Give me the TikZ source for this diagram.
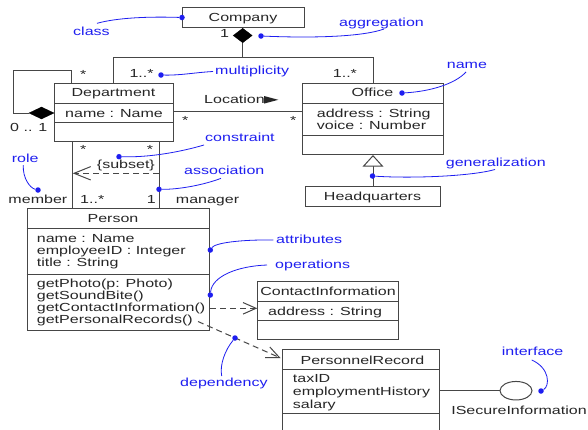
\documentclass[tikz,border=0pt]{standalone}
\usepackage{fontspec}
\usetikzlibrary{arrows.meta,shapes.geometric,calc}
\newfontfamily\umlfont[FakeStretch=1.37]{Liberation Sans}
\definecolor{ublue}{RGB}{30,30,240}
\definecolor{lineg}{RGB}{70,70,70}
\newcommand{\umlsize}{\umlfont\fontsize{11.7}{12.6}\selectfont}
\begin{document}
\begin{tikzpicture}[x=1pt,y=-1pt,
  box/.style={draw=lineg,line width=1pt,inner sep=0,anchor=north west},
  txt/.style={inner sep=0,font=\umlsize,text=black!85},
  note/.style={inner sep=0,font=\umlsize,text=ublue},
  lead/.style={draw=ublue,line width=0.8pt},
  dotb/.style={circle,fill=ublue,inner sep=0,minimum size=5.5pt},
  conn/.style={draw=lineg,line width=1pt},
  dep/.style={conn,dash pattern=on 6pt off 4pt},
  diam/.style={diamond,fill=black,draw=black,inner sep=0},
]
\clip (0,0) rectangle (588,429);
\fill[white] (0,0) rectangle (588,429);

% ---------- class boxes ----------
\node[box,minimum width=122pt,minimum height=20pt] (company) at (182,7) {};
\node[txt,anchor=base] (companyT) at (243,21.5) {Company};

\node[box,minimum width=119pt,minimum height=58pt] (dept) at (54,83) {};
\draw[conn] (dept.west |- 0,103) -- (dept.east |- 0,103);
\draw[conn] (dept.west |- 0,122) -- (dept.east |- 0,122);
\node[txt,anchor=base] (deptT) at (113.5,96.5) {Department};
\node[txt,anchor=base west] (deptA) at (65,117) {name : Name};

\node[box,minimum width=141pt,minimum height=71pt] (office) at (302,83) {};
\draw[conn] (office.west |- 0,103) -- (office.east |- 0,103);
\draw[conn] (office.west |- 0,135) -- (office.east |- 0,135);
\node[txt,anchor=base] (officeT) at (372.5,96.5) {Office};
\node[txt,anchor=base west] (officeA1) at (316.7,117) {address : String};
\node[txt,anchor=base west] (officeA2) at (316.7,129.5) {voice : Number};

\node[box,minimum width=135pt,minimum height=20pt] (hq) at (305,186) {};
\node[txt,anchor=base] (hqT) at (372.5,200.7) {Headquarters};

\node[box,minimum width=182.6pt,minimum height=122pt] (person) at (26.7,208) {};
\draw[conn] (person.west |- 0,228.3) -- (person.east |- 0,228.3);
\draw[conn] (person.west |- 0,274) -- (person.east |- 0,274);
\node[txt,anchor=base] (personT) at (113,222.3) {Person};
\node[txt,anchor=base west] (pa1) at (36.7,242.6) {name : Name};
\node[txt,anchor=base west] (pa2) at (36.7,254.7) {employeeID : Integer};
\node[txt,anchor=base west] (pa3) at (36.7,266.6) {title : String};
\node[txt,anchor=base west] (po1) at (36.7,287.3) {getPhoto(p: Photo)};
\node[txt,anchor=base west] (po2) at (36.7,299.4) {getSoundBite()};
\node[txt,anchor=base west] (po3) at (36.7,311.6) {getContactInformation()};
\node[txt,anchor=base west] (po4) at (36.7,323.8) {getPersonalRecords()};

\node[box,minimum width=141pt,minimum height=58.3pt] (ci) at (257.3,280.7) {};
\draw[conn] (ci.west |- 0,301) -- (ci.east |- 0,301);
\draw[conn] (ci.west |- 0,320) -- (ci.east |- 0,320);
\node[txt,anchor=base] (ciT) at (328,295.7) {ContactInformation};
\node[txt,anchor=base west] (ciA) at (268,315) {address : String};

\node[box,minimum width=156.4pt,minimum height=85pt] (pr) at (282.3,349.3) {};
\draw[conn] (pr.west |- 0,369.3) -- (pr.east |- 0,369.3);
\draw[conn] (pr.west |- 0,413.3) -- (pr.east |- 0,413.3);
\node[txt,anchor=base] (prT) at (362.5,364) {PersonnelRecord};
\node[txt,anchor=base west] (pra1) at (292.7,382.7) {taxID};
\node[txt,anchor=base west] (pra2) at (292.7,395.5) {employmentHistory};
\node[txt,anchor=base west] (pra3) at (292.7,408.3) {salary};

\node[draw=lineg,line width=1pt,ellipse,minimum width=32pt,minimum height=18.5pt,inner sep=0] (iface) at (516,390.7) {};
\node[txt,anchor=base] (ifaceT) at (519,414) {ISecureInformation};

% ---------- connectors ----------
% aggregation Company -> Department / Office
\node[diam,minimum width=19pt,minimum height=14.5pt] (cdiam) at (242.7,35.5) {};
\coordinate (aggj) at (242.7,57);
\draw[conn] (cdiam.south) -- (aggj);
\draw[conn] (aggj) -| ($(dept.north west)+(59,0)$);
\draw[conn] (aggj) -| ($(office.north west)+(71,0)$);
\node[txt,anchor=base west] (m1) at (220,37.3) {1};
\node[txt,anchor=base west] (m2) at (129.3,77.5) {1..*};
\node[txt,anchor=base west] (m3) at (332.7,77.5) {1..*};

% self aggregation on Department
\node[diam,minimum width=25pt,minimum height=12pt] (sdiam) at (41.5,113) {};
\coordinate (sl1) at (13.3,70);
\draw[conn] (sdiam.west) -| (sl1) -| ($(dept.north west)+(17.7,0)$);
\node[txt,anchor=base west] (m4) at (80,78) {*};
\node[txt,anchor=base west] (m5) at (10,131) {0 .. 1};

% Location association
\draw[conn] (dept.east |- 0,111) -- (office.west |- 0,111);
\node[txt,anchor=base west] (locT) at (204,103.5) {Location};
\fill[black!85] ($(locT.base east)+(-1,-7.5)$) -- ++(14.3,3.8) -- ++(-14.3,3.8) -- cycle;
\node[txt,anchor=base west] (m6) at (182,124.5) {*};
\node[txt,anchor=base west] (m7) at (290,124.5) {*};

% Department - Person associations
\draw[conn] (dept.south -| 72.7,0) -- (person.north -| 72.7,0);
\draw[conn] (dept.south -| 159,0) -- (person.north -| 159,0);
\coordinate (cr) at (159,173.3);
\coordinate (cl) at (72.7,173.3);
\draw[dep,-{Straight Barb[length=16.7pt,width=13.4pt]}] (cr) -- (cl);
\node[txt,anchor=base west] (subs) at (96.7,168.3) {\{subset\}};
\node[txt,anchor=base west] (m8) at (80,153) {*};
\node[txt,anchor=base west] (m9) at (146.7,153) {*};
\node[txt,anchor=base west] (rmem) at (8.3,203.3) {member};
\node[txt,anchor=base west] (m10) at (80,203.3) {1..*};
\node[txt,anchor=base west] (m11) at (146.7,203.3) {1};
\node[txt,anchor=base west] (rman) at (175.7,203.3) {manager};

% generalization
\draw[conn,-{Triangle[open,length=11.7pt,width=21pt,fill=white]}] (hq.north) -- (office.south);

% dependencies
\draw[dep,-{Straight Barb[length=13pt,width=11.5pt]}] (person.east |- 0,308.3) -- (ci.west |- 0,308.3);
\coordinate (d2s) at (198,321.5);
\coordinate (d2e) at (280.5,358);
\draw[dep,-{Straight Barb[length=13pt,width=11.5pt]}] (d2s) -- (d2e);

% interface
\draw[conn] (pr.east |- iface.west) -- (iface.west);

% ---------- blue annotations ----------
\node[note,anchor=base west] (nclass) at (73,35.8) {class};
\node[dotb] (dclass) at (company.west) {};
\draw[lead] (97,23.3) .. controls (118,17.5) and (150,16.5) .. (dclass);

\node[note,anchor=base west] (nagg) at (339,26.5) {aggregation};
\node[dotb] (dagg) at (261,36) {};
\draw[lead] (dagg) .. controls (320,38.5) and (365,36) .. (384,29);

\node[note,anchor=base west] (nmult) at (215,74.6) {multiplicity};
\node[dotb] (dmult) at (161,75) {};
\draw[lead] (dmult) .. controls (180,75.5) and (195,72.5) .. (213,71.5);

\node[note,anchor=base west] (nname) at (446.7,68.2) {name};
\node[dotb] (dname) at (402,93) {};
\draw[lead] (dname) .. controls (430,91.5) and (455,84) .. (466,72);

\node[note,anchor=base west] (ncons) at (205,141.7) {constraint};
\node[dotb] (dcons) at (119,156.7) {};
\draw[lead] (dcons) .. controls (150,157.5) and (180,152) .. (204,145);

\node[note,anchor=base west] (nassoc) at (184,174.3) {association};
\node[dotb] (dassoc) at (159,189.3) {};
\draw[lead] (dassoc) .. controls (180,189.5) and (205,184.5) .. (221,178.3);

\node[note,anchor=base west] (nrole) at (11.7,162.3) {role};
\node[dotb] (drole) at (38,190) {};
\draw[lead] (23.3,165) .. controls (22.5,178) and (30,188) .. (drole);

\node[note,anchor=base west] (nattr) at (276,243.3) {attributes};
\node[dotb] (dattr) at (person.east |- 0,250) {};
\draw[lead] (dattr) .. controls (215,243) and (240,239.5) .. (273.3,240);

\node[note,anchor=base west] (nops) at (275,268.5) {operations};
\node[dotb] (dops) at (person.east |- 0,295) {};
\draw[lead] (dops) .. controls (212,276) and (238,266) .. (267,265);

\node[note,anchor=base west] (ngen) at (445.7,166.7) {generalization};
\node[dotb] (dgen) at (372.5,176) {};
\draw[lead] (dgen) .. controls (410,178.5) and (470,176.5) .. (495,169.5);

\node[note,anchor=base west] (ndep) at (180,386.7) {dependency};
\node[dotb] (ddep) at (235,338) {};
\draw[lead] (ddep) .. controls (225,350) and (219.5,365) .. (221.7,376);

\node[note,anchor=base west] (nint) at (501.7,355) {interface};
\node[dotb] (dint) at (541,391) {};
\draw[lead] (531.7,360) .. controls (550,368) and (550,386) .. (dint);
\end{tikzpicture}
\end{document}
